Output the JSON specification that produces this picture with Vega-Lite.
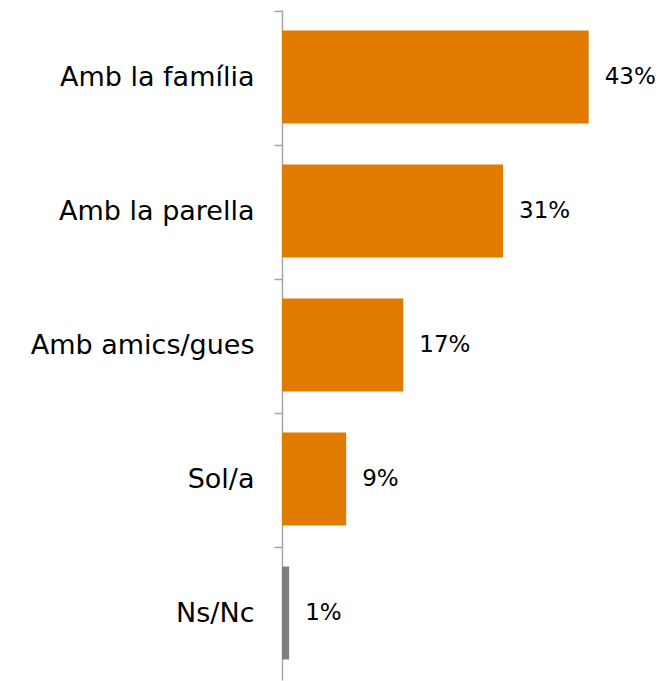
{
  "$schema": "https://vega.github.io/schema/vega-lite/v6.json",
  "autosize": "none",
  "width": 378,
  "height": 670,
  "padding": {"left": 282, "top": 10, "right": 0, "bottom": 1},
  "background": "white",
  "config": {"view": {"stroke": null}, "font": "DejaVu Sans"},
  "data": {"values": [
    {"cat": "Amb la família", "val": 43, "label": "43%", "grp": "a"},
    {"cat": "Amb la parella", "val": 31, "label": "31%", "grp": "a"},
    {"cat": "Amb amics/gues", "val": 17, "label": "17%", "grp": "a"},
    {"cat": "Sol/a", "val": 9, "label": "9%", "grp": "a"},
    {"cat": "Ns/Nc", "val": 1, "label": "1%", "grp": "b"}
  ]},
  "encoding": {
    "y": {"field": "cat", "type": "nominal", "sort": null,
      "scale": {"paddingInner": 0.306, "paddingOuter": 0.153},
      "axis": {"title": null, "tickOffset": -66, "labelOffset": 66, "tickSize": 8, "tickColor": "#a6a6a6", "tickWidth": 1.5,
        "domainColor": "#a6a6a6", "domainWidth": 1.5, "labelFontSize": 27, "labelColor": "#000000",
        "labelPadding": 20, "labelFont": "DejaVu Sans", "labelFontWeight": "normal", "labelLimit": 300}},
    "x": {"field": "val", "type": "quantitative", "scale": {"domain": [0, 53], "nice": false}, "axis": null}
  },
  "layer": [
    {"mark": {"type": "bar"},
     "encoding": {"color": {"field": "grp", "type": "nominal", "scale": {"domain": ["a", "b"], "range": ["#e07b00", "#7f7f7f"]}, "legend": null}}},
    {"mark": {"type": "text", "align": "left", "baseline": "middle", "dx": 16, "fontSize": 23, "font": "DejaVu Sans", "color": "#000000"},
     "encoding": {"text": {"field": "label"}}}
  ]
}
